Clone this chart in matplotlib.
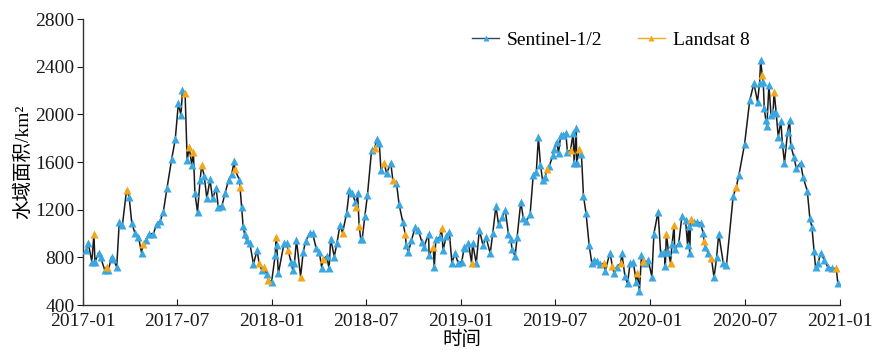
import matplotlib
matplotlib.use('Agg')
import matplotlib.pyplot as plt
import matplotlib.dates as mdates
from matplotlib.lines import Line2D
import numpy as np
import pandas as pd

# days since 2017-01-01 and water area (km2)
sentinel_day = [6, 10, 17, 23, 30, 34, 42, 49, 55, 58, 65, 70, 76, 89, 94, 100, 107, 113, 121, 127,
                136, 142, 149, 155, 162, 171, 178, 184, 189, 192, 201, 210, 216, 221, 226, 234, 239, 245, 250, 257,
                261, 268, 274, 281, 287, 292, 302, 306, 309, 312, 316, 322, 329, 336, 345, 355, 364,
                371, 374, 377, 388, 393, 401, 405, 408, 412, 425, 430, 438, 443, 450, 456, 461, 470, 475,
                478, 485, 490, 496, 509, 514, 520, 525, 530, 536, 539, 544, 549, 557, 567, 572, 575, 586,
                594, 605, 610, 617, 624, 628, 634, 641, 647, 654, 658, 667, 668, 678, 681, 689, 695, 701,
                707, 712, 718, 724, 731, 736,
                737, 744, 752, 759, 765, 772, 778, 786, 791, 797, 802, 809, 815, 821, 826, 828, 834, 838,
                845, 850, 856, 863, 869, 875, 879, 883, 887, 892, 900, 907, 909, 914, 918, 922, 927, 932,
                935, 946, 948, 952, 953, 962, 966, 971, 977, 982, 986, 992, 998, 1008, 1017, 1025, 1030,
                1040, 1046, 1051, 1056, 1062, 1068, 1074, 1078, 1085, 1091, 1098,
                1102, 1110, 1115, 1122, 1124, 1130, 1137, 1142, 1150, 1156, 1163, 1167, 1169, 1171, 1180,
                1186, 1192, 1197, 1201, 1207, 1218, 1223, 1227, 1236, 1242, 1255, 1266, 1277, 1287, 1295,
                1302, 1306, 1308, 1313, 1315, 1318, 1320, 1324, 1328, 1332, 1338, 1342, 1347, 1350, 1354,
                1360, 1364, 1366, 1372, 1377, 1385, 1390, 1398, 1403, 1407, 1411, 1414, 1419, 1424, 1431,
                1438, 1446, 1457]
sentinel_area = [861, 923, 763, 763, 839, 800, 694, 694, 806, 789, 721, 1099, 1071, 1309, 1091, 1007, 973, 839, 945, 996,
                 1001, 1080, 1107, 1183, 1379, 1622, 1790, 2092, 1994, 2204, 1617, 1575, 1337, 1183, 1449, 1482, 1295, 1454, 1295, 1379,
                 1225, 1231, 1337, 1449, 1499, 1611, 1449, 1225, 1063, 993, 945, 918, 744, 861, 694, 660, 596,
                 820, 903, 666, 918, 918, 763, 694, 750, 945, 847, 940, 1007, 1007, 876, 847, 708, 811, 708,
                 958, 806, 918, 1071, 1175, 1365, 1343, 1267, 1343, 958, 958, 1147, 1323, 1700, 1790, 1756, 1533, 1505,
                 1594, 1426, 1247, 1099, 903, 847, 945, 1052, 1034, 931, 889, 996, 820, 716, 951, 973, 861, 979,
                 1015, 755, 834, 755, 763, 889,
                 876, 918, 918, 750, 1034, 903, 968, 834, 1007, 1231, 1080, 1140, 1197, 1001, 951, 867, 811, 973,
                 1267, 1127, 1107, 1163, 1491, 1519, 1807, 1575, 1449, 1471, 1566, 1658, 1706, 1770, 1678, 1826, 1826, 1840,
                 1686, 1840, 1594, 1882, 1594, 1672, 1315, 1169, 903, 755, 777, 772, 744, 688, 839, 666, 721,
                 839, 643, 582, 750, 763, 596, 520, 820, 750, 777, 638,
                 1001, 1183, 834, 847, 727, 847, 912, 867, 923, 1147, 1113, 903, 1063, 834, 1099,
                 1099, 1085, 1007, 889, 834, 632, 800, 1001, 750, 736, 1315, 1491, 1751, 2120, 2260,
                 2106, 2267, 2456, 2274, 2050, 1952, 1902, 2246, 1994, 2022, 2014, 1807, 1946, 1751, 1594,
                 1854, 1952, 1742, 1644, 1547, 1594, 1471, 1359, 1127, 1052, 856, 716, 755, 839, 777,
                 716, 708, 582]

landsat_day = [21, 46, 84, 116, 197, 205, 213, 229, 293, 303, 340, 349, 358,
               373, 396, 420, 463, 501, 527, 533, 563, 581, 598, 622, 676, 692,
               750, 895, 941, 958, 1006, 1022, 1038, 1070, 1080,
               1126, 1134, 1141, 1173, 1199, 1213, 1261, 1311, 1334, 1454]
landsat_area = [996, 721, 1365, 909, 2176, 1723, 1686, 1575, 1538, 1393, 750, 716, 610,
                973, 861, 638, 783, 1007, 1220, 1063, 1714, 1594, 1449, 996, 889, 1043,
                755, 1538, 1700, 1706, 750, 727, 750, 671, 772,
                1001, 755, 1071, 1119, 940, 792, 1393, 2330, 2190, 708]

start = pd.Timestamp('2017-01-01')
s_dates = start + pd.to_timedelta(sentinel_day, unit='D')
l_dates = start + pd.to_timedelta(landsat_day, unit='D')

# combined series, sorted by date, for the connecting line
both = pd.DataFrame({'date': list(s_dates) + list(l_dates),
                     'area': sentinel_area + landsat_area}).sort_values('date')

blue = '#3BA7E1'
orange = '#F3A71B'

plt.rcParams['font.family'] = ['Liberation Serif', 'Noto Sans CJK SC']
plt.rcParams['font.size'] = 14

fig = plt.figure(figsize=(8.74, 3.59), dpi=100)
ax = fig.add_axes([0.095, 0.150, 0.866, 0.797])

ax.plot(both['date'], both['area'], color='#1a1a1a', lw=1.1, zorder=2)
ax.plot(s_dates, sentinel_area, ls='none', marker='^', ms=5.5, mfc=blue, mec='none', zorder=3)
ax.plot(l_dates, landsat_area, ls='none', marker='^', ms=5.5, mfc=orange, mec='none', zorder=4)

ax.set_xlim(pd.Timestamp('2017-01-01'), pd.Timestamp('2021-01-01'))
ax.set_ylim(400, 2800)
ax.set_yticks(np.arange(400, 2801, 400))
ax.xaxis.set_major_locator(mdates.MonthLocator(bymonth=[1, 7]))
ax.xaxis.set_major_formatter(mdates.DateFormatter('%Y-%m'))

ax.spines['top'].set_visible(False)
ax.spines['right'].set_visible(False)
for sp in ('left', 'bottom'):
    ax.spines[sp].set_linewidth(1.0)
    ax.spines[sp].set_color('#333333')
ax.tick_params(axis='y', direction='out', length=4, pad=2, colors='#1a1a1a')
ax.tick_params(axis='x', direction='in', length=4, pad=6, colors='#1a1a1a')

ax.set_ylabel('水域面积/km²', labelpad=2)
ax.set_xlabel('时间', labelpad=0)

handles = [Line2D([], [], color='#2a4a6a', lw=1, marker='^', ms=5, mfc=blue, mec='none'),
           Line2D([], [], color=orange, lw=1, marker='^', ms=5, mfc=orange, mec='none')]
ax.legend(handles, ['Sentinel-1/2', 'Landsat 8'], ncol=2, frameon=False, loc='center',
          bbox_to_anchor=(0.699, 0.889), bbox_transform=fig.transFigure,
          handlelength=1.4, handletextpad=0.4, columnspacing=1.8)

fig.savefig('out.png', dpi=100)
